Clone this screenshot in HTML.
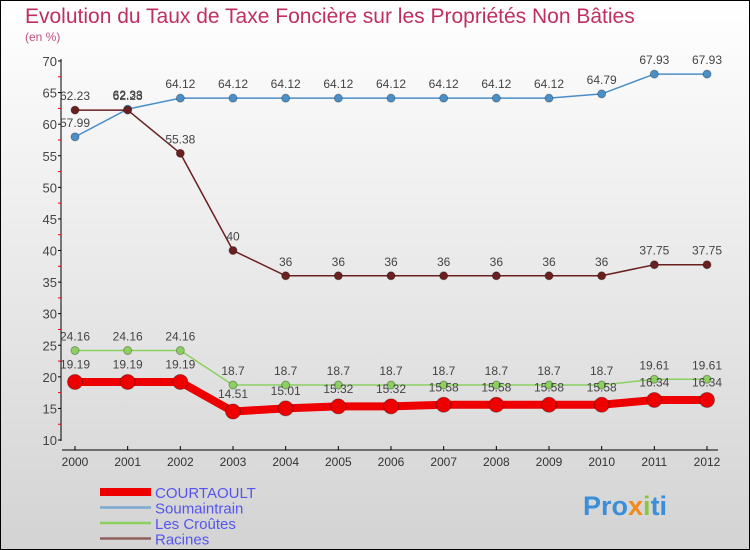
<!DOCTYPE html>
<html><head><meta charset="utf-8"><style>
body{margin:0;}
#c{width:750px;height:550px;position:relative;overflow:hidden;font-family:"Liberation Sans",sans-serif;}
</style></head><body>
<div id="c">
<svg id="s" width="750" height="550" xmlns="http://www.w3.org/2000/svg">
<defs><linearGradient id="bg" x1="0" y1="0" x2="0" y2="1"><stop offset="0" stop-color="#ffffff"/><stop offset="1" stop-color="#d3d3d3"/></linearGradient></defs>
<rect x="0.5" y="0.5" width="749" height="549" fill="url(#bg)" stroke="#000"/>
<text x="25" y="23" font-size="21" fill="#c0305f">Evolution du Taux de Taxe Foncière sur les Propriétés Non Bâties</text>
<text x="25" y="41" font-size="12" fill="#c0507f">(en %)</text>
<g id="axes"></g><g id="series"></g><g id="legend"></g>
<text x="583" y="515" font-size="27" font-weight="bold" fill="#3a8fd8">Pro<tspan fill="#f08a1c">x</tspan><tspan fill="#8cc63f">i</tspan>ti</text>
</svg></div>
<script>
const years=["2000","2001","2002","2003","2004","2005","2006","2007","2008","2009","2010","2011","2012"];
const yTicks=[10,15,20,25,30,35,40,45,50,55,60,65,70];
const courtaoult=[19.19,19.19,19.19,14.51,15.01,15.32,15.32,15.58,15.58,15.58,15.58,16.34,16.34];
const soumaintrain=[57.99,62.38,64.12,64.12,64.12,64.12,64.12,64.12,64.12,64.12,64.79,67.93,67.93];
const lesCroutes=[24.16,24.16,24.16,18.7,18.7,18.7,18.7,18.7,18.7,18.7,18.7,19.61,19.61];
const racines=[62.23,62.23,55.38,40,36,36,36,36,36,36,36,37.75,37.75];
const NS="http://www.w3.org/2000/svg";
const X=i=>75+i*(707-75)/12;
const Y=v=>440-(v-10)*(440-61)/60;
function mk(t,a,p){const e=document.createElementNS(NS,t);for(const k in a)e.setAttribute(k,a[k]);p.appendChild(e);return e;}
const ax=document.getElementById('axes');
let l=mk('line',{x1:61,y1:59,x2:61,y2:441,stroke:'#000'},ax);


l=mk('line',{x1:62,y1:450,x2:718,y2:450,stroke:'#000'},ax);


yTicks.forEach((v,i)=>{
  mk('line',{x1:58,y1:Y(v),x2:61,y2:Y(v),stroke:'#000'},ax);
  if(i<yTicks.length-1)mk('line',{x1:58,y1:Y(v+2.5),x2:61,y2:Y(v+2.5),stroke:'#e00'},ax);
  const t=mk('text',{x:57,y:Y(v)+5,'font-size':13,fill:'#444','text-anchor':'end'},ax);t.textContent=v;
  
  
});
years.forEach((y,i)=>{
  mk('line',{x1:X(i),y1:446,x2:X(i),y2:450,stroke:'#000'},ax);
  const t=mk('text',{x:X(i),y:466,'font-size':12,fill:'#333','text-anchor':'middle'},ax);t.textContent=y;
  
  
});
const sg=document.getElementById('series');
const defs=[
 {name:'soumaintrain',d:soumaintrain,c:'#4a8fc8',w:1.5,r:4},
 {name:'racines',d:racines,c:'#6a2020',w:1.5,r:4},
 {name:'les-croutes',d:lesCroutes,c:'#8cd060',w:1.5,r:4},
 {name:'courtaoult',d:courtaoult,c:'#ee0000',w:8,r:7.5}
];
defs.forEach(s=>{
  const g=mk('g',{},sg);
  
  
  const p=mk('polyline',{points:s.d.map((v,i)=>X(i)+','+Y(v)).join(' '),fill:'none',stroke:s.c,'stroke-width':s.w},g);
  
  
  s.d.forEach((v,i)=>{
    const c=mk('circle',{cx:X(i),cy:Y(v),r:s.r,fill:s.c,stroke:'rgba(0,0,0,0.3)'},g);
    
    
    const t=mk('text',{x:X(i),y:Y(v)-(s.r+6),'font-size':12,fill:'#444','text-anchor':'middle'},g);
    t.textContent=v;
    
    
  });
});
const lg=document.getElementById('legend');
const items=[['COURTAOULT','#ee0000',8],['Soumaintrain','#7aaad0',2.5],['Les Croûtes','#8cd060',2.5],['Racines','#906060',2.5]];
items.forEach((it,i)=>{
  const y=492+i*15.5;
  const ln=mk('line',{x1:100,y1:y,x2:151,y2:y,stroke:it[1],'stroke-width':it[2]},lg);
  
  
  const t=mk('text',{x:155,y:y+6,'font-size':15,fill:'#5555ee'},lg);t.textContent=it[0];
  
  
});
</script>
</body></html>
